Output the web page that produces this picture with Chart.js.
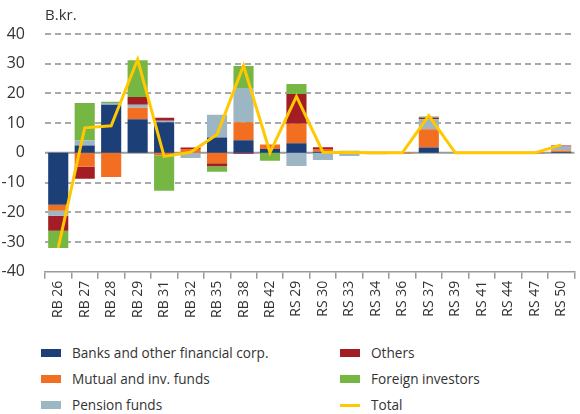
<!DOCTYPE html>
<html>
<head>
<meta charset="utf-8">
<script src="https://cdn.jsdelivr.net/npm/chart.js@4"></script>
<style>
  body { margin: 0; background: #fff; font-family: "Open Sans", sans-serif; }
  #wrap { position: relative; width: 580px; height: 414px; }
  #box { position: absolute; left: 0; top: 0; width: 580px; height: 324px; }
  #legend { position: absolute; left: 0; top: 340px; width: 580px; height: 74px; }
  .item { position: absolute; font-size: 13.6px; color: #333; white-space: nowrap; }
  .sw { position: absolute; left: 0; width: 20px; }
  .item span.t { position: absolute; left: 31px; top: -10px; }
</style>
</head>
<body>
<div id="wrap">
  <div id="box"><canvas id="graph"></canvas></div>
  <div id="legend"></div>
</div>
<script>
const categories = ['RB 26','RB 27','RB 28','RB 29','RB 31','RB 32','RB 35','RB 38','RB 42','RS 29',
                    'RS 30','RS 33','RS 34','RS 36','RS 37','RS 39','RS 41','RS 44','RS 47','RS 50'];

const banks   = [-17.5, 2.5, 16.2, 11.3, 10.3, 0, 5.2, 4.2, 1.3, 3.2, 0.4, 0, 0, 0, 1.8, 0, 0, 0, 0, 0.3];
const mutual  = [-2.0, -4.7, -8.1, 3.9, -0.8, 1.3, -3.5, 6.1, 1.5, 6.6, 0.9, -0.2, 0.2, -0.3, 6.1, 0, 0, 0, -0.2, 0.5];
const pension = [-1.7, 1.7, 0.6, 1.0, 0.5, -1.7, 7.6, 11.5, 0, -4.4, -2.4, -0.9, -0.5, 0, 3.4, 0, 0, 0, 0.2, 1.3];
const others  = [-5.0, -4.0, 0, 2.6, 1.0, 0.5, -1.0, -0.3, 0, 10.0, 0.6, 0.4, 0, 0, 0.5, 0, 0, 0, 0, 0.4];
const foreign = [-5.8, 12.6, 0.4, 12.4, -12.0, 0, -1.9, 7.4, -2.7, 3.4, 0, 0.3, 0, 0, 0.4, 0, 0, 0, 0, 0];
const total   = [-32.0, 8.4, 9.1, 31.4, -1.2, 0.2, 6.2, 29.4, 0.1, 19.0, 0.2, 0.1, 0, 0, 12.5, 0, 0, 0, 0, 2.7];

const yMin = -40, yMax = 40, yStep = 10;

const colors = {
  banks: '#1c3f78',
  mutual: '#f26f21',
  pension: '#9db6c3',
  others: '#a31d24',
  foreign: '#76b744',
  total: '#ffc800'
};

// dashed grid, solid zero line, "B.kr." label
const extras = {
  id: 'extras',
  beforeDatasetsDraw(chart) {
    const c = chart.ctx, ys = chart.scales.y, a = chart.chartArea;
    c.save();
    c.strokeStyle = '#a9a9a9';
    c.lineWidth = 2;
    c.setLineDash([6, 4]);
    for (let v = yMin + yStep; v <= yMax; v += yStep) {
      if (v === 0) continue;
      const y = Math.round(ys.getPixelForValue(v));
      c.beginPath();
      c.moveTo(a.left, y);
      c.lineTo(a.right, y);
      c.stroke();
    }
    c.setLineDash([]);
    c.strokeStyle = '#9a9a9a';
    const y0 = ys.getPixelForValue(0);
    c.beginPath();
    c.moveTo(a.left, y0);
    c.lineTo(a.right, y0);
    c.stroke();
    c.restore();
  },
  afterDraw(chart) {
    const c = chart.ctx;
    c.save();
    c.fillStyle = '#333';
    c.font = '15px "Open Sans"';
    c.textBaseline = 'alphabetic';
    c.fillText('B.kr.', 45, 20);
    c.restore();
  }
};

function bar(label, data, color) {
  return {
    type: 'bar', label: label, data: data, backgroundColor: color,
    stack: 'a', order: 1, barPercentage: 0.76, categoryPercentage: 1
  };
}

const graph = document.getElementById('graph').getContext('2d');

let myChart = new Chart(graph, {
  data: {
    labels: categories,
    datasets: [
      bar('Banks and other financial corp.', banks, colors.banks),
      bar('Mutual and inv. funds', mutual, colors.mutual),
      bar('Pension funds', pension, colors.pension),
      bar('Others', others, colors.others),
      bar('Foreign investors', foreign, colors.foreign),
      {
        type: 'line', label: 'Total', data: total, stack: 'b', order: 0,
        borderColor: colors.total, borderWidth: 3, pointRadius: 0, tension: 0, fill: false
      }
    ]
  },
  options: {
    responsive: true,
    maintainAspectRatio: false,
    animation: false,
    layout: { padding: { top: 34, right: 2, left: 0, bottom: 4 } },
    plugins: { legend: { display: false }, tooltip: { enabled: false } },
    scales: {
      x: {
        stacked: true,
        grid: { display: true, drawOnChartArea: false, offset: true, tickLength: 7, color: '#9a9a9a', lineWidth: 1.5 },
        border: { display: true, color: '#9a9a9a', width: 1.5 },
        ticks: { minRotation: 90, maxRotation: 90, autoSkip: false, color: '#333',
                 font: { family: 'Open Sans', size: 14 }, padding: 2 }
      },
      y: {
        stacked: true,
        min: yMin, max: yMax,
        afterFit(scale) { scale.width = 45; },
        grid: { display: false },
        border: { display: false },
        ticks: { stepSize: yStep, color: '#333', font: { family: 'Open Sans', size: 16 }, padding: 12 }
      }
    }
  },
  plugins: [extras]
});

// legend in two columns, filled down
const leg = document.getElementById('legend');
const legItems = [
  ['Banks and other financial corp.', colors.banks, 41, 13, false],
  ['Mutual and inv. funds', colors.mutual, 41, 39, false],
  ['Pension funds', colors.pension, 41, 65, false],
  ['Others', colors.others, 340, 13, false],
  ['Foreign investors', colors.foreign, 340, 39, false],
  ['Total', colors.total, 340, 65, true]
];
legItems.forEach(([text, col, x, y, isLine]) => {
  const d = document.createElement('div');
  d.className = 'item';
  d.style.left = x + 'px';
  d.style.top = y + 'px';
  const h = isLine ? 3 : 8;
  d.innerHTML = '<div class="sw" style="background:' + col + ';height:' + h + 'px;top:' + (-h / 2) + 'px"></div>' +
                '<span class="t">' + text + '</span>';
  leg.appendChild(d);
});
</script>
</body>
</html>
